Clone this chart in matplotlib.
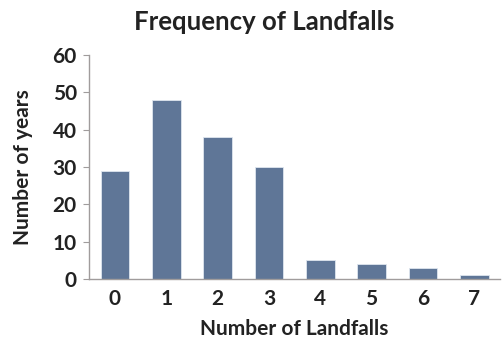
import matplotlib
matplotlib.use("Agg")
from matplotlib import pyplot as plt

# Landfall counts and how many years had each
landfalls = [0, 1, 2, 3, 4, 5, 6, 7]
years = [29, 48, 38, 30, 5, 4, 3, 1]

plt.rcParams['font.family'] = ['Lato', 'DejaVu Sans']
plt.rcParams['font.weight'] = 'bold'

fig = plt.figure(figsize=(5.04, 3.42), dpi=100)
ax = fig.add_axes([0.177, 0.184, 0.815, 0.655])

ax.bar(landfalls, years, width=0.56, color='#5f7697',
       edgecolor='#dfe6ef', linewidth=0.6, zorder=2)

ax.set_xlim(-0.5, 7.5)
ax.set_ylim(0, 60)
ax.set_yticks(range(0, 61, 10))
ax.set_xticks(landfalls)

for side in ('top', 'right'):
    ax.spines[side].set_visible(False)
for side in ('left', 'bottom'):
    ax.spines[side].set_color('#a09c9c')
    ax.spines[side].set_linewidth(1.0)

ax.tick_params(axis='y', length=4, color='#a09c9c', labelsize=15,
               labelcolor='#222222', pad=5)
ax.tick_params(axis='x', length=0, labelsize=15, labelcolor='#222222', pad=7)

ax.set_xlabel('Number of Landfalls', fontsize=15, fontweight='bold',
              color='#222222', labelpad=7)
ax.set_ylabel('Number of years', fontsize=15, fontweight='bold',
              color='#222222', labelpad=14)
fig.text(0.525, 0.935, 'Frequency of Landfalls', ha='center', va='center',
         fontsize=18.5, fontweight='bold', color='#222222')

fig.savefig('out.png', dpi=100, facecolor='white')
